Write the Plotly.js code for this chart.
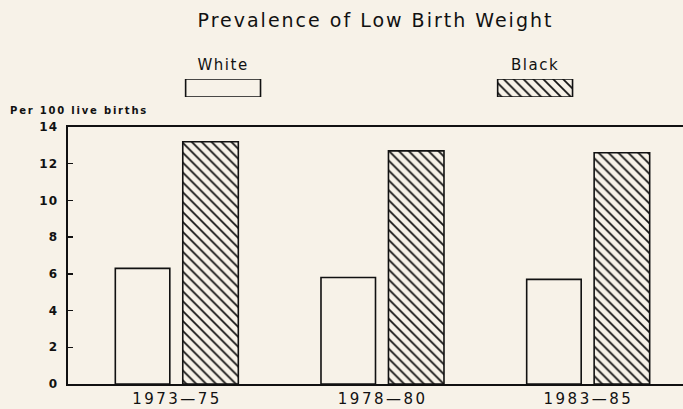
<!DOCTYPE html>
<html>
<head>
<meta charset="utf-8">
<script src="https://cdn.plot.ly/plotly-3.0.1.min.js"></script>
<style>
html,body{margin:0;padding:0;background:#f7f2e8;}
#chart{width:683px;height:409px;}
.gtitle{letter-spacing:2px;}
.xtick text{letter-spacing:2.5px;}
.x2tick text{letter-spacing:1.5px;}
.ytick text{letter-spacing:1px;}
.annotation-text{letter-spacing:1.8px;}
</style>
</head>
<body>
<div id="chart"></div>
<script>
var periods = ["1973\u201475", "1978\u201480", "1983\u201485"];
var seriesNames = ["White", "Black"];
var whiteValues = [6.3, 5.8, 5.7];
var blackValues = [13.2, 12.7, 12.6];
var legendSwatch = [1, 1];
var yTicks = [0, 2, 4, 6, 8, 10, 12, 14];

var bg = "#f7f2e8";
var fontFam = "DejaVu Sans, sans-serif";

var traces = [
  {
    type: "bar", x: periods, y: whiteValues, name: seriesNames[0],
    width: 0.265, offset: -0.3,
    marker: {color: bg, line: {color: "#111", width: 1.6}},
    showlegend: false, hoverinfo: "skip"
  },
  {
    type: "bar", x: periods, y: blackValues, name: seriesNames[1],
    width: 0.27, offset: 0.028,
    marker: {color: bg, line: {color: "#111", width: 1.6},
      pattern: {shape: "\\", size: 7, solidity: 0.25, fgcolor: "#111", bgcolor: bg, fillmode: "replace"}},
    showlegend: false, hoverinfo: "skip"
  },
  {
    type: "bar", x: seriesNames, y: legendSwatch, xaxis: "x2", yaxis: "y2",
    width: 0.24,
    marker: {color: bg, line: {color: "#111", width: 1.6},
      pattern: {shape: ["", "\\"], size: 7, solidity: 0.25, fgcolor: "#111", bgcolor: bg, fillmode: "replace"}},
    showlegend: false, hoverinfo: "skip"
  }
];

var layout = {
  width: 683, height: 409,
  paper_bgcolor: bg, plot_bgcolor: bg,
  margin: {l: 68, r: 0, t: 0, b: 25},
  font: {family: fontFam, color: "#111"},
  barmode: "overlay",
  title: {text: "Prevalence of Low Birth Weight", font: {size: 19, family: fontFam, color: "#111"},
    x: 0.5, xref: "paper", xanchor: "center", y: 0.951, yref: "container", yanchor: "middle"},
  xaxis: {
    domain: [0, 1], range: [-0.53, 2.46], type: "category",
    showline: true, linecolor: "#111", linewidth: 1.6, mirror: true,
    ticks: "", showgrid: false, zeroline: false,
    tickfont: {size: 15, family: fontFam}, ticklabelstandoff: 0
  },
  yaxis: {
    domain: [0, 0.6693], range: [0, 14], tickvals: yTicks,
    showline: true, linecolor: "#111", linewidth: 1.6,
    ticks: "inside", ticklen: 5, tickcolor: "#111", tickwidth: 1.5,
    showgrid: false, zeroline: false,
    tickfont: {size: 12, family: fontFam, weight: "bold"}, ticklabelstandoff: 6
  },
  xaxis2: {
    domain: [0, 1], range: [-0.497, 1.474], type: "category", anchor: "y2",
    side: "top", showline: false, ticks: "", showgrid: false, zeroline: false,
    tickfont: {size: 15, family: fontFam}, ticklabelstandoff: 5
  },
  yaxis2: {
    domain: [0.7474, 0.7943], range: [0, 1], anchor: "x2",
    showticklabels: false, showline: false, ticks: "", showgrid: false, zeroline: false
  },
  annotations: [{
    text: "<b>Per 100 live births</b>", xref: "paper", yref: "paper",
    x: -0.0976, y: 0.713, xanchor: "left", yanchor: "middle", showarrow: false,
    font: {size: 10, family: fontFam, color: "#111"}
  }]
};

Plotly.newPlot("chart", traces, layout, {displayModeBar: false, staticPlot: true});
</script>
</body>
</html>
